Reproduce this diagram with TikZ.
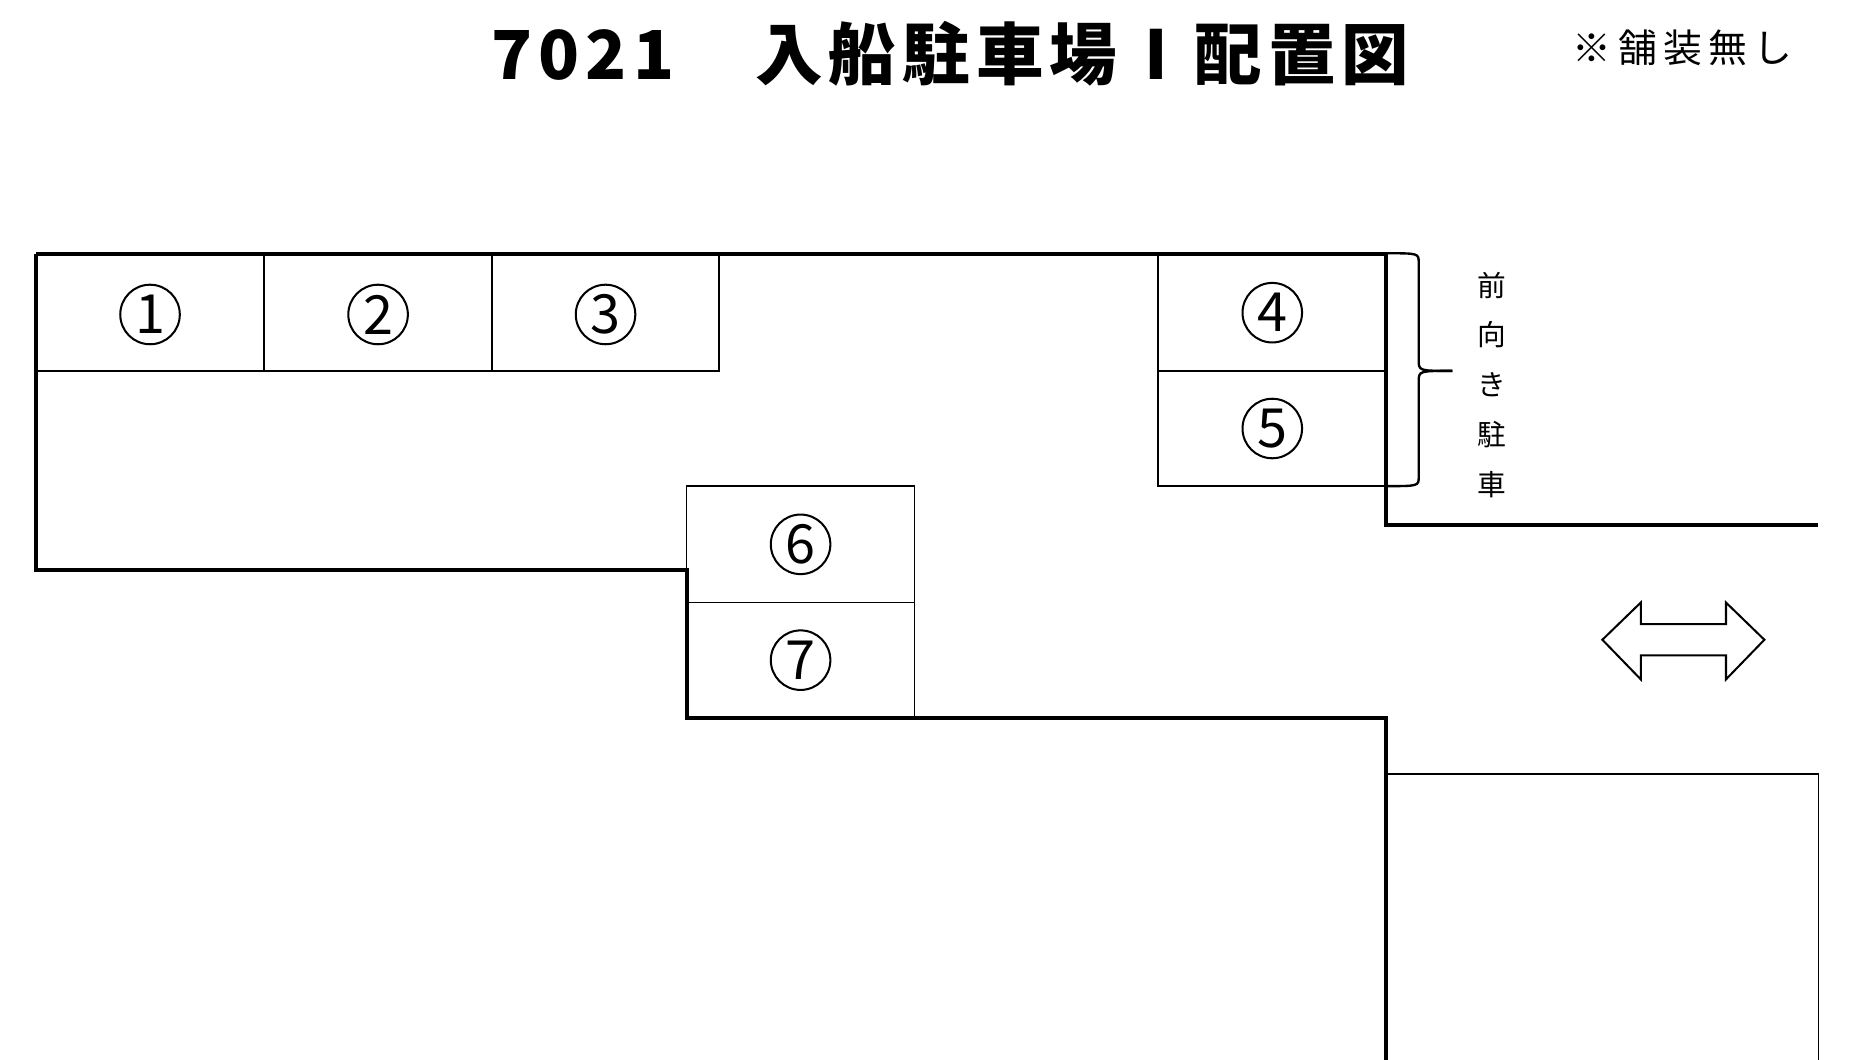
\documentclass[tikz,border=0pt]{standalone}
\usepackage{fontspec}
\newfontfamily\jp{Noto Sans CJK JP}
\newfontfamily\jpb{Noto Sans CJK JP Black}
\usetikzlibrary{decorations.pathreplacing}
\tikzset{
  wall/.style={line width=1.2pt},
  slot/.style={line width=0.5pt},
  numcirc/.style={circle, draw, line width=0.6pt, minimum size=0.62cm, inner sep=0pt, font=\fontsize{16}{16}\selectfont\jp},
  vlabel/.style={font=\fontsize{8.5}{8.5}\selectfont\jp}
}
\newcommand{\tsp}{\kern0.09em}
\begin{document}
\begin{tikzpicture}[x=0.0125cm, y=-0.0125cm]
  \useasboundingbox (0,0) rectangle (1548,883);
  % title
  \node[font=\fontsize{20}{20}\selectfont\jpb] (title) at (792,45)
    {7\tsp{}0\tsp{}2\tsp{}1\hspace{1.2em}入\tsp{}船\tsp{}駐\tsp{}車\tsp{}場\hspace{0.4em}I\hspace{0.4em}配\tsp{}置\tsp{}図};
  \node[font=\fontsize{11.5}{11.5}\selectfont\jp] (note) at (1402,40) {※\,舗\,装\,無\,し};

  % outer walls
  \draw[wall] (30,212) -- (1155,212) -- (1155,437) -- (1515,437);
  \draw[wall] (30,212) -- (30,475) -- (572,475) -- (572,598) -- (1155,598) -- (1155,887);

  % parking slots
  \foreach \xa/\xb/\n in {30/220/1, 220/410/2, 410/599/3} {
    \draw[slot] (\xa,212) rectangle (\xb,309);
    \node[numcirc] (s\n) at ({(\xa+\xb)/2},262) {\n};
  }
  \foreach \ya/\yb/\n in {212/309/4, 309/405/5} {
    \draw[slot] (965,\ya) rectangle (1155,\yb);
    \node[numcirc] (s\n) at (1060,{(\ya+\yb)/2}) {\n};
  }
  \foreach \ya/\yb/\n in {405/502/6, 502/598/7} {
    \draw[slot] (572,\ya) rectangle (762,\yb);
    \node[numcirc] (s\n) at (667,{(\ya+\yb)/2}) {\n};
  }
  \draw[slot] (1155,645) rectangle (1515,887);

  % brace and label
  \coordinate (bt) at (1155,211);
  \coordinate (bb) at (1155,405);
  \coordinate (btip) at (1210,309);
  \draw[slot, line width=0.7pt] (bt) .. controls (1182,211) .. (1182,219) -- (1182,300)
    .. controls (1182,309) .. (btip);
  \draw[slot, line width=0.7pt] (bb) .. controls (1182,405) .. (1182,397) -- (1182,318)
    .. controls (1182,309) .. (btip);
  \foreach \c [count=\i] in {前,向,き,駐,車} {
    \node[vlabel] (v\i) at (1243,{196+41.5*\i}) {\c};
  }

  % two-way arrow
  \draw[line width=0.6pt] (1335,533) -- (1367,502) -- (1367,520) -- (1438,520) -- (1438,502)
    -- (1470,533) -- (1438,566) -- (1438,546) -- (1367,546) -- (1367,566) -- cycle;
\end{tikzpicture}
\end{document}
